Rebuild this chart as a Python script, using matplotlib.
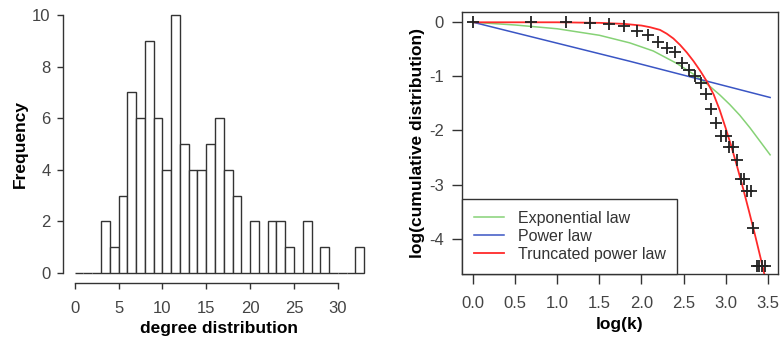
import matplotlib
matplotlib.use("Agg")
import matplotlib.pyplot as plt

plt.rcParams["font.family"] = ["Liberation Sans", "DejaVu Sans"]
plt.rcParams["axes.unicode_minus"] = False

# degree histogram: unit-width bins starting at 0
bin_left = list(range(33))
bin_counts = [0, 0, 0, 2, 1, 3, 7, 6, 9, 6, 4, 10, 5, 4, 4, 5, 6, 4, 3, 0,
              2, 0, 2, 2, 1, 0, 2, 0, 1, 0, 0, 0, 1]

# observed cumulative distribution, log-log
obs_logk = [0.00, 0.69, 1.10, 1.39, 1.61, 1.79, 1.95, 2.08, 2.20, 2.30, 2.40,
            2.48, 2.56, 2.64, 2.71, 2.77, 2.83, 2.89, 2.94, 3.00, 3.04, 3.09,
            3.14, 3.18, 3.22, 3.26, 3.30, 3.33, 3.37, 3.40, 3.43, 3.47]
obs_logcum = [0.00, 0.00, 0.00, -0.02, -0.03, -0.07, -0.16, -0.24, -0.37,
              -0.47, -0.55, -0.76, -0.89, -1.00, -1.13, -1.32, -1.61, -1.86,
              -2.10, -2.10, -2.30, -2.30, -2.55, -2.89, -2.89, -3.11, -3.11,
              -3.81, -4.50, -4.50, -4.50, -4.50]

# fitted curves
exp_x = [0.0, 0.5, 1.0, 1.5, 1.86, 2.14, 2.42, 2.62, 2.78, 2.93, 3.05, 3.17,
         3.29, 3.41, 3.53]
exp_y = [0.0, -0.05, -0.12, -0.24, -0.38, -0.53, -0.76, -0.96, -1.14, -1.34,
         -1.52, -1.72, -1.95, -2.20, -2.45]
pow_x = [0.0, 1.86, 3.53]
pow_y = [0.0, -0.72, -1.39]
trunc_x = [0.0, 1.0, 1.5, 1.8, 2.0, 2.1, 2.22, 2.30, 2.38, 2.46, 2.54, 2.62,
           2.70, 2.78, 2.86, 2.93, 3.00, 3.07, 3.14, 3.21, 3.28, 3.35, 3.42,
           3.48]
trunc_y = [0.0, 0.0, -0.01, -0.03, -0.06, -0.09, -0.14, -0.21, -0.30, -0.42,
           -0.56, -0.72, -0.90, -1.10, -1.34, -1.62, -1.95, -2.30, -2.68,
           -3.08, -3.50, -3.93, -4.38, -4.78]

ink = "#333333"
label_col = "#444444"

fig = plt.figure(figsize=(7.8, 3.43), dpi=100)

# ---- left panel: histogram ----
ax1 = fig.add_axes([0.0809, 0.174, 0.4008, 0.812])
ax1.bar(bin_left, bin_counts, width=1.0, align="edge", color="white",
        edgecolor=ink, linewidth=1.0)
ax1.set_xlim(-1.32, 34.32)
ax1.set_ylim(-0.4, 10.4)
for s in ("top", "right"):
    ax1.spines[s].set_visible(False)
ax1.spines["left"].set_bounds(0, 10)
ax1.spines["bottom"].set_bounds(0, 30)
for s in ("left", "bottom"):
    ax1.spines[s].set_color(ink)
    ax1.spines[s].set_linewidth(1.0)
ax1.set_xticks(range(0, 31, 5))
ax1.set_yticks(range(0, 11, 2))
ax1.tick_params(axis="both", length=4, width=1.0, color=ink,
                labelsize=12, labelcolor=label_col)
ax1.tick_params(axis="x", pad=9)
ax1.tick_params(axis="y", pad=5)
ax1.set_xlabel("degree distribution", fontsize=12.5, fontweight="bold",
               labelpad=3)
ax1.set_ylabel("Frequency", fontsize=12.5, fontweight="bold", labelpad=3)

# ---- right panel: cumulative distribution fits ----
ax2 = fig.add_axes([0.5919, 0.2012, 0.4059, 0.7647])
ax2.plot(exp_x, exp_y, color="#86d276", linewidth=1.1,
         label="Exponential law")
ax2.plot(pow_x, pow_y, color="#3a55c4", linewidth=1.1, label="Power law")
ax2.plot(trunc_x, trunc_y, color="#ff2a2a", linewidth=1.3,
         label="Truncated power law")
ax2.plot(obs_logk, obs_logcum, linestyle="none", marker="+", markersize=8,
         markeredgewidth=1.3, color="#222222")
ax2.set_xlim(-0.138, 3.627)
ax2.set_ylim(-4.653, 0.196)
for s in ax2.spines.values():
    s.set_color(ink)
    s.set_linewidth(1.0)
ax2.set_xticks([0.0, 0.5, 1.0, 1.5, 2.0, 2.5, 3.0, 3.5])
ax2.set_xticklabels(["0.0", "0.5", "1.0", "1.5", "2.0", "2.5", "3.0", "3.5"])
ax2.set_yticks([0, -1, -2, -3, -4])
ax2.tick_params(axis="both", length=7, width=1.0, color=ink,
                labelsize=12, labelcolor=label_col)
ax2.tick_params(axis="x", pad=9)
ax2.tick_params(axis="y", pad=6)
ax2.set_xlabel("log(k)", fontsize=12.5, fontweight="bold", labelpad=4)
ax2.set_ylabel("log(cumulative distribution)", fontsize=12.5,
               fontweight="bold", labelpad=3)

leg = ax2.legend(loc="lower left", bbox_to_anchor=(0, 0), borderaxespad=0,
                 fontsize=11.5, frameon=True, fancybox=False, framealpha=1,
                 edgecolor=ink, handlelength=1.9, handletextpad=0.85,
                 labelspacing=0.2, borderpad=0.75)
leg.get_frame().set_linewidth(1.0)
for t in leg.get_texts():
    t.set_color("#333333")

fig.savefig("out.png", dpi=100)
